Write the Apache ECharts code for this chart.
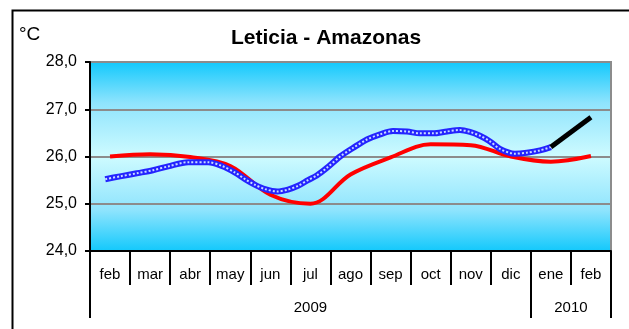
<!DOCTYPE html>
<html>
<head>
<meta charset="utf-8">
<script src="https://cdn.jsdelivr.net/npm/echarts@6/dist/echarts.min.js"></script>
<style>
  html, body { margin: 0; padding: 0; background: #fff; }
  #chart { width: 629px; height: 329px; }
</style>
</head>
<body>
<div id="chart"></div>
<script>
// Month labels (Feb 2009 .. Feb 2010)
const months = ['feb', 'mar', 'abr', 'may', 'jun', 'jul', 'ago', 'sep', 'oct', 'nov', 'dic', 'ene', 'feb'];
// Year labels and where they sit on the month scale (0 = first feb)
const years = ['2009', '2010'];
const yearCenters = [5, 11.5];
const yearBounds = [-0.5, 10.5, 12.5];

// Long-term monthly mean temperature (°C)
const climatology = [26.0, 26.05, 25.99, 25.80, 25.19, 25.0, 25.62, 25.98, 26.26, 26.24, 26.0, 25.89, 26.01];

// Observed running temperature (°C); position in months from first feb
const observedPos = [-0.12, 0.25, 0.70, 1.07, 1.45, 1.95, 2.45, 2.79, 3.12, 3.37, 3.62, 3.87,
  4.17, 4.44, 4.69, 4.94, 5.16, 5.41, 5.74, 6.06, 6.41, 6.74, 7.06, 7.41, 7.73, 8.06,
  8.41, 8.73, 8.98, 9.23, 9.48, 9.73, 10.10, 10.40, 10.73, 11.0];
const observedVal = [25.52, 25.58, 25.65, 25.71, 25.79, 25.88, 25.88, 25.80, 25.66, 25.52, 25.40, 25.31,
  25.26, 25.30, 25.38, 25.50, 25.60, 25.76, 26.00, 26.18, 26.36, 26.47, 26.54, 26.53, 26.49, 26.49,
  26.53, 26.56, 26.52, 26.44, 26.32, 26.16, 26.06, 26.08, 26.13, 26.20];

// Forecast (ene -> feb 2010)
const forecastPos = [11, 12];
const forecastVal = [26.20, 26.83];

const observed = observedPos.map((p, i) => [p, observedVal[i]]);
const forecast = forecastPos.map((p, i) => [p, forecastVal[i]]);

const font = 'Arial, "Liberation Sans", sans-serif';

const chart = echarts.init(document.getElementById('chart'), null, { renderer: 'canvas' });
chart.setOption({
  animation: false,
  backgroundColor: '#ffffff',
  title: [
    { text: '°C', left: 14, top: 20, textStyle: { fontFamily: font, fontSize: 19, fontWeight: 'normal', color: '#000' } },
    { text: 'Leticia - Amazonas', left: 226, top: 23, textStyle: { fontFamily: font, fontSize: 21, fontWeight: 'bold', color: '#000' } }
  ],
  graphic: [{
    type: 'rect', left: 10, top: 8, z: -1,
    shape: { width: 640, height: 340 },
    style: { fill: 'none', stroke: '#000', lineWidth: 2 }
  }],
  grid: {
    left: 90, right: 18, top: 62, bottom: 78,
    show: true,
    borderColor: '#8c8c8c', borderWidth: 2,
    backgroundColor: new echarts.graphic.LinearGradient(0, 0, 0, 1, [
      { offset: 0, color: '#10c8fc' },
      { offset: 0.22, color: '#8fe4fd' },
      { offset: 0.5, color: '#cefbff' },
      { offset: 0.78, color: '#8fe4fd' },
      { offset: 1, color: '#10c8fc' }
    ])
  },
  xAxis: [
    {
      type: 'category', data: months, boundaryGap: true, position: 'bottom',
      axisLine: { show: true, onZero: false, lineStyle: { color: '#000', width: 2 } },
      axisTick: { show: true, interval: 0, length: 34, lineStyle: { color: '#000', width: 2 } },
      axisLabel: { show: true, interval: 0, margin: 16, fontFamily: font, fontSize: 15, color: '#000' }
    },
    {
      type: 'value', min: -0.5, max: 12.5, position: 'bottom', show: false
    },
    {
      type: 'value', min: -0.5, max: 12.5, position: 'bottom',
      axisLine: { show: false, onZero: false },
      splitLine: { show: false },
      axisTick: { show: true, customValues: yearBounds, length: 67, lineStyle: { color: '#000', width: 2 } },
      axisLabel: {
        show: true, customValues: yearCenters, margin: 49, fontFamily: font, fontSize: 15, color: '#000',
        formatter: v => years[yearCenters.indexOf(v)]
      }
    }
  ],
  yAxis: {
    type: 'value', min: 24, max: 28, interval: 1,
    axisLine: { show: true, onZero: false, lineStyle: { color: '#000', width: 2 } },
    axisTick: { show: true, length: 5, lineStyle: { color: '#000', width: 2 } },
    splitLine: { show: true, lineStyle: { color: '#8c8c8c', width: 2 } },
    axisLabel: {
      margin: 13, fontFamily: font, fontSize: 16, color: '#000',
      formatter: v => v.toFixed(1).replace('.', ',')
    }
  },
  series: [
    {
      type: 'line', xAxisIndex: 0, data: climatology, smooth: 0.35,
      symbol: 'none', lineStyle: { color: '#ff0000', width: 4 }, z: 3
    },
    {
      type: 'line', xAxisIndex: 1, data: observed, smooth: 0.3,
      symbol: 'none', lineStyle: { color: '#2424ff', width: 6 }, z: 4
    },
    {
      type: 'line', xAxisIndex: 1, data: observed, smooth: 0.3,
      symbol: 'none', lineStyle: { color: '#c8dcff', width: 2, type: [2, 2] }, z: 5
    },
    {
      type: 'line', xAxisIndex: 1, data: forecast,
      symbol: 'none', lineStyle: { color: '#000', width: 5 }, z: 6
    }
  ]
});
</script>
</body>
</html>
